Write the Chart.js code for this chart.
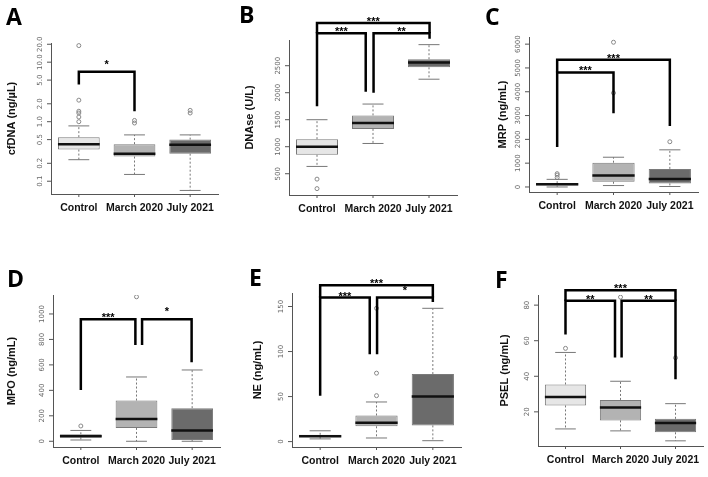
<!DOCTYPE html>
<html>
<head>
<meta charset="utf-8">
<script src="https://cdn.jsdelivr.net/npm/chart.js@4"></script>
<style>
  body { margin: 0; background: #fff; width: 708px; height: 477px; position: relative; overflow: hidden; }
  .panel { position: absolute; }
  .letter { position: absolute; font-family: "Open Sans", sans-serif; font-weight: bold; font-size: 23px; color: #000; }
</style>
</head>
<body>
<script>
// --- Data ---
const groups = ['Control', 'March 2020', 'July 2021'];
const boxColors = ['#e6e6e6', '#b3b3b3', '#6b6b6b'];

// box stats: [whisker low, q1, median, q3, whisker high]
const cfdnaBox = [[0.23, 0.34, 0.42, 0.55, 0.85], [0.13, 0.26, 0.29, 0.42, 0.6], [0.07, 0.29, 0.41, 0.5, 0.6]];
const cfdnaOut = [[1.0, 1.2, 1.4, 1.5, 2.3, 19], [0.95, 1.05], [1.4, 1.55]];
const cfdnaTicks = [0.1, 0.2, 0.5, 1, 2, 5, 10, 20];

const dnaseBox = [[635, 850, 1000, 1140, 1500], [1060, 1330, 1440, 1580, 1790], [2250, 2470, 2560, 2620, 2890]];
const dnaseOut = [[400, 224], [], []];
const dnaseTicks = [500, 1000, 1500, 2000, 2500];

const mrpBox = [[0, 60, 110, 160, 320], [60, 220, 480, 1020, 1250], [20, 150, 330, 760, 1560]];
const mrpOut = [[400, 500, 560], [3950, 6080], [1900]];
const mrpTicks = [0, 1000, 2000, 3000, 4000, 5000, 6000];

const mpoBox = [[10, 30, 40, 55, 85], [0, 105, 175, 320, 505], [0, 10, 85, 260, 560]];
const mpoOut = [[120], [1135], []];
const mpoTicks = [0, 200, 400, 600, 800, 1000];

const neBox = [[3, 5, 6, 7.5, 12], [4, 17, 21, 29, 44], [1, 18, 50, 75, 148]];
const neOut = [[], [51, 76, 148], []];
const neTicks = [0, 50, 100, 150];

const pselBox = [[10.4, 23.6, 28.3, 35.4, 53.4], [9.3, 15.2, 22.5, 26.7, 37.2], [3.7, 8.5, 13.8, 16.1, 24.6]];
const pselOut = [[55.7], [84.5], [50.4]];
const pselTicks = [20, 40, 60, 80];

// significance brackets: a/b = category position, y = bar level, ya/yb = leg ends
const cfdnaSig = [{ a: 0, b: 1, y: 6.9, ya: 4.2, yb: 1.5, t: '*' }];
const dnaseSig = [
    { a: 0, b: 0.87, y: 3100, ya: 1750, yb: 2020, t: '***' },
    { a: 1.01, b: 2.01, y: 3100, ya: 2000, yb: 3000, t: '**' },
    { a: 0, b: 2.01, y: 3290, ya: 3100, yb: 3100, t: '***' }
];
const mrpSig = [
    { a: 0, b: 1, y: 4810, ya: 1680, yb: 3100, t: '***' },
    { a: 0, b: 2, y: 5340, ya: 4810, yb: 2560, t: '***' }
];
const mpoSig = [
    { a: 0, b: 0.98, y: 958, ya: 403, yb: 756, t: '***' },
    { a: 1.1, b: 1.99, y: 958, ya: 756, yb: 620, t: '*' }
];
const neSig = [
    { a: 0, b: 0.88, y: 160, ya: 51, yb: 97, t: '***' },
    { a: 1.01, b: 2, y: 160, ya: 97, yb: 155, t: '*' },
    { a: 0, b: 2, y: 173.5, ya: 160, yb: 160, t: '***' }
];
const pselSig = [
    { a: 0, b: 0.9, y: 82.5, ya: 63.5, yb: 50.5, t: '**' },
    { a: 1.02, b: 2, y: 82.5, ya: 50.5, yb: 38.3, t: '**' },
    { a: 0, b: 2, y: 88.4, ya: 82.5, yb: 82.5, t: '***' }
];

// --- Panel layout ---
const panels = [
    { letter: 'A', lx: 6, ly: 0, title: 'cfDNA (ng/µL)', box: cfdnaBox, out: cfdnaOut, ticks: cfdnaTicks, fmt: v => v.toFixed(1), sig: cfdnaSig, log: true, yMin: 0.061, yMax: 21,
      x: 0, y: 0, w: 235, h: 238, L: 43, R: 218, T: 43, B: 202, tx: 12 },
    { letter: 'B', lx: 239, ly: -2, title: 'DNAse (U/L)', box: dnaseBox, out: dnaseOut, ticks: dnaseTicks, fmt: v => String(v), sig: dnaseSig, log: false, yMin: 106, yMax: 2976,
      x: 235, y: 0, w: 235, h: 238, L: 281, R: 457, T: 40, B: 203, tx: 250 },
    { letter: 'C', lx: 485, ly: 0, title: 'MRP (ng/mL)', box: mrpBox, out: mrpOut, ticks: mrpTicks, fmt: v => String(v), sig: mrpSig, log: false, yMin: -211, yMax: 6300,
      x: 470, y: 0, w: 238, h: 238, L: 521, R: 698, T: 37, B: 200, tx: 503 },
    { letter: 'D', lx: 7, ly: 262, title: 'MPO (ng/mL)', box: mpoBox, out: mpoOut, ticks: mpoTicks, fmt: v => String(v), sig: mpoSig, log: false, yMin: -45, yMax: 1149,
      x: 0, y: 238, w: 230, h: 239, L: 45, R: 220, T: 295, B: 455, tx: 12 },
    { letter: 'E', lx: 249, ly: 261, title: 'NE (ng/mL)', box: neBox, out: neOut, ticks: neTicks, fmt: v => String(v), sig: neSig, log: false, yMin: -6, yMax: 165,
      x: 230, y: 238, w: 240, h: 239, L: 284, R: 461, T: 293, B: 455, tx: 258 },
    { letter: 'F', lx: 495, ly: 263, title: 'PSEL (ng/mL)', box: pselBox, out: pselOut, ticks: pselTicks, fmt: v => String(v), sig: pselSig, log: false, yMin: 0.8, yMax: 85.7,
      x: 470, y: 238, w: 238, h: 239, L: 530, R: 706, T: 295, B: 454, tx: 505 }
];

// --- Plugin: whiskers, medians, axes text, brackets ---
function makeBoxPlugin(p) {
    return {
        id: 'boxExtras',
        afterDatasetsDraw(chart) {
            const ctx = chart.ctx;
            const xs = chart.scales.x, ys = chart.scales.y;
            const meta = chart.getDatasetMeta(0);
            const area = chart.chartArea;
            ctx.save();

            // whiskers and medians
            p.box.forEach((s, i) => {
                const bar = meta.data[i];
                const cx = bar.x, hw = bar.width / 2;
                ctx.strokeStyle = '#777';
                ctx.lineWidth = 1;
                ctx.setLineDash([2, 2]);
                ctx.beginPath();
                ctx.moveTo(cx, ys.getPixelForValue(s[3])); ctx.lineTo(cx, ys.getPixelForValue(s[4]));
                ctx.moveTo(cx, ys.getPixelForValue(s[1])); ctx.lineTo(cx, ys.getPixelForValue(s[0]));
                ctx.stroke();
                ctx.setLineDash([]);
                ctx.beginPath();
                [s[0], s[4]].forEach(v => {
                    const py = ys.getPixelForValue(v);
                    ctx.moveTo(cx - hw / 2, py); ctx.lineTo(cx + hw / 2, py);
                });
                ctx.stroke();
                ctx.strokeStyle = '#111';
                ctx.lineWidth = 2.5;
                ctx.beginPath();
                const my = ys.getPixelForValue(s[2]);
                ctx.moveTo(cx - hw, my); ctx.lineTo(cx + hw, my);
                ctx.stroke();
            });

            // y ticks and labels
            ctx.strokeStyle = '#555';
            ctx.lineWidth = 1;
            ctx.fillStyle = '#666';
            ctx.font = '7px "DejaVu Sans"';
            p.ticks.forEach(v => {
                const py = ys.getPixelForValue(v);
                ctx.beginPath(); ctx.moveTo(area.left - 4, py); ctx.lineTo(area.left, py); ctx.stroke();
                ctx.save();
                ctx.translate(area.left - 7, py);
                ctx.rotate(-Math.PI / 2);
                ctx.textAlign = 'center';
                ctx.textBaseline = 'bottom';
                ctx.fillText(p.fmt(v), 0, 0);
                ctx.restore();
            });

            // x ticks and labels
            ctx.fillStyle = '#111';
            ctx.font = 'bold 10.5px "Liberation Sans"';
            ctx.textAlign = 'center';
            ctx.textBaseline = 'middle';
            groups.forEach((g, i) => {
                const px = xs.getPixelForValue(i);
                ctx.beginPath(); ctx.moveTo(px, area.bottom); ctx.lineTo(px, area.bottom + 3); ctx.stroke();
                ctx.fillText(g, px, area.bottom + 14);
            });

            // y title
            ctx.save();
            ctx.translate(p.tx - p.x, (area.top + area.bottom) / 2);
            ctx.rotate(-Math.PI / 2);
            ctx.font = 'bold 11px "Liberation Sans"';
            ctx.fillText(p.title, 0, 0);
            ctx.restore();

            // significance brackets
            ctx.strokeStyle = '#000';
            ctx.lineWidth = 2.5;
            ctx.fillStyle = '#000';
            ctx.font = 'bold 11px "Liberation Sans"';
            ctx.textBaseline = 'alphabetic';
            p.sig.forEach(s => {
                const xa = xs.getPixelForValue(s.a), xb = xs.getPixelForValue(s.b);
                const py = ys.getPixelForValue(s.y);
                ctx.beginPath();
                ctx.moveTo(xa, ys.getPixelForValue(s.ya));
                ctx.lineTo(xa, py);
                ctx.lineTo(xb, py);
                ctx.lineTo(xb, ys.getPixelForValue(s.yb));
                ctx.stroke();
                ctx.fillText(s.t, (xa + xb) / 2, py + (s.t === '*' ? -4 : 2));
            });
            ctx.restore();
        }
    };
}

panels.forEach(p => {
    const div = document.createElement('div');
    div.className = 'panel';
    div.style.left = p.x + 'px';
    div.style.top = p.y + 'px';
    const canvas = document.createElement('canvas');
    canvas.width = p.w;
    canvas.height = p.h;
    div.appendChild(canvas);
    document.body.appendChild(div);

    const letter = document.createElement('div');
    letter.className = 'letter';
    letter.textContent = p.letter;
    letter.style.left = p.lx + 'px';
    letter.style.top = p.ly + 'px';
    document.body.appendChild(letter);

    const outPoints = [];
    p.out.forEach((vals, i) => vals.forEach(v => outPoints.push({ x: groups[i], y: v })));

    new Chart(canvas.getContext('2d'), {
        type: 'bar',
        data: {
            labels: groups,
            datasets: [
                {
                    data: p.box.map(s => [s[1], s[3]]),
                    backgroundColor: boxColors,
                    borderColor: '#7a7a7a',
                    borderWidth: 1,
                    borderSkipped: false,
                    barPercentage: 0.75,
                    categoryPercentage: 1
                },
                {
                    type: 'scatter',
                    data: outPoints,
                    pointRadius: 2,
                    pointBackgroundColor: 'rgba(0,0,0,0)',
                    pointBorderColor: '#888',
                    pointBorderWidth: 1
                }
            ]
        },
        options: {
            responsive: false,
            animation: false,
            layout: { padding: { left: p.L - p.x, right: p.x + p.w - p.R, top: p.T - p.y, bottom: p.y + p.h - p.B } },
            plugins: {
                legend: { display: false },
                tooltip: { enabled: false }
            },
            scales: {
                x: {
                    type: 'category',
                    offset: true,
                    grid: { display: false },
                    ticks: { display: false },
                    border: { display: true, color: '#555', width: 1 }
                },
                y: {
                    type: p.log ? 'logarithmic' : 'linear',
                    min: p.yMin,
                    max: p.yMax,
                    grid: { display: false },
                    ticks: { display: false },
                    border: { display: true, color: '#555', width: 1 }
                }
            }
        },
        plugins: [makeBoxPlugin(p)]
    });
});
</script>
</body>
</html>
